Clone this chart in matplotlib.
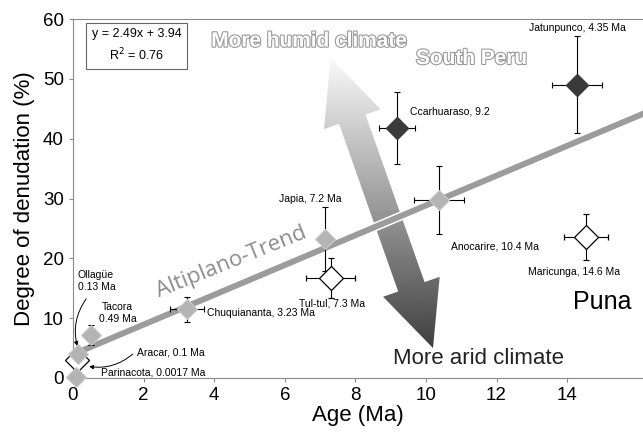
import numpy as np
import matplotlib
matplotlib.use("Agg")
import matplotlib.pyplot as plt
from matplotlib.patches import Polygon
import matplotlib.patheffects as pe

plt.rcParams['font.family'] = ['Liberation Sans', 'DejaVu Sans']

# sites: name, age position, denudation, errors
light_x = [0.08, 0.13, 0.5, 3.23, 7.15, 10.37]
light_y = [0.2, 4.0, 7.2, 11.5, 23.2, 29.8]
light_xerr = [0, 0, 0, 0.48, 0, 0.7]
light_yerr = [0, 0, 1.7, 2.1, 5.4, 5.7]

white_x = [0.1, 7.3, 14.53]
white_y = [3.0, 16.7, 23.6]
white_xerr = [0, 0.7, 0.62]
white_yerr = [0, 3.3, 3.8]

dark_x = [9.18, 14.28]
dark_y = [41.8, 49.0]
dark_xerr = [0.5, 0.7]
dark_yerr = [6.0, 8.1]

slope, intercept, r2 = 2.49, 3.94, 0.76

fig = plt.figure(figsize=(6.43, 4.33), dpi=100)
ax = fig.add_axes([73/643, 55/433, 570/643, 359/433])
ax.set_xlim(0, 16.15)
ax.set_ylim(0, 60)
ax.set_xticks([0, 2, 4, 6, 8, 10, 12, 14])
ax.set_yticks([0, 10, 20, 30, 40, 50, 60])
ax.tick_params(labelsize=13.5, length=3, color='#888888')
for s in ['left', 'bottom', 'top']:
    ax.spines[s].set_color('#8a8a8a')
ax.spines['right'].set_visible(False)
ax.set_xlabel("Age (Ma)", fontsize=16, labelpad=1)
ax.set_ylabel("Degree of denudation (%)", fontsize=16, labelpad=6)

# gradient double arrow (built in pixel space)
fig.canvas.draw()
p_top = ax.transData.transform((7.3, 53.5))
p_bot = ax.transData.transform((10.2, 5.0))
d = p_bot - p_top
L = np.hypot(*d)
u = d / L
n = np.array([-u[1], u[0]])
sw, hw, hl = 14, 30, 65
pts = [p_top,
       p_top + u*hl + n*hw, p_top + u*hl + n*sw,
       p_bot - u*hl + n*sw, p_bot - u*hl + n*hw,
       p_bot,
       p_bot - u*hl - n*hw, p_bot - u*hl - n*sw,
       p_top + u*hl - n*sw, p_top + u*hl - n*hw]
pts = ax.transData.inverted().transform(np.array(pts))
poly = Polygon(pts, closed=True, facecolor='none', edgecolor='none')
ax.add_patch(poly)
grad = np.linspace(0.98, 0.25, 256).reshape(-1, 1)
im = ax.imshow(grad, cmap='gray', vmin=0, vmax=1, aspect='auto',
               extent=[pts[:, 0].min(), pts[:, 0].max(), 5.0, 53.5],
               origin='upper', zorder=1)
im.set_clip_path(poly)
ax.set_xlim(0, 16.15)
ax.set_ylim(0, 60)

# trend line
xx = np.array([0.13, 17])
ax.plot(xx, slope*xx + intercept, color='#9c9c9c', lw=4.3, zorder=2,
        solid_capstyle='butt',
        path_effects=[pe.withStroke(linewidth=6.5, foreground='white')])

ekw = dict(ecolor='black', elinewidth=0.8, capsize=2.5, capthick=0.8, ls='none', zorder=3)
ax.errorbar(white_x, white_y, xerr=white_xerr, yerr=white_yerr, fmt='D', ms=12,
            mfc='white', mec='black', mew=0.9, clip_on=False, **ekw)
ax.errorbar(light_x, light_y, xerr=light_xerr, yerr=light_yerr, fmt='D', ms=10,
            mfc='#b4b4b4', mec='#c8c8c8', mew=0.8, clip_on=False, **ekw)
ax.errorbar(dark_x, dark_y, xerr=dark_xerr, yerr=dark_yerr, fmt='D', ms=11,
            mfc='#3a3a3a', mec='#3a3a3a', clip_on=False, **ekw)

fs = 7.5
ax.text(14.3, 58.5, "Jatunpunco, 4.35 Ma", fontsize=fs, ha='center', va='center')
ax.text(9.55, 44.5, "Ccarhuaraso, 9.2", fontsize=fs, ha='left', va='center')
ax.text(7.6, 29.9, "Japia, 7.2 Ma", fontsize=fs, ha='right', va='center')
ax.text(10.7, 21.9, "Anocarire, 10.4 Ma", fontsize=fs, ha='left', va='center')
ax.text(14.2, 17.7, "Maricunga, 14.6 Ma", fontsize=fs, ha='center', va='center')
ax.text(7.35, 12.4, "Tul-tul, 7.3 Ma", fontsize=fs, ha='center', va='center')
ax.text(3.8, 10.8, "Chuquiananta, 3.23 Ma", fontsize=fs, ha='left', va='center')
ax.text(1.27, 10.9, "Tacora\n0.49 Ma", fontsize=fs, ha='center', va='center', linespacing=1.2)
ax.text(0.13, 16.2, "Ollagüe\n0.13 Ma", fontsize=fs, ha='left', va='center', linespacing=1.2)
ax.text(1.8, 4.2, "Aracar, 0.1 Ma", fontsize=fs, ha='left', va='center')
ax.text(0.8, 0.85, "Parinacota, 0.0017 Ma", fontsize=fs, ha='left', va='center')

ax.annotate('', xy=(0.14, 4.9), xytext=(0.42, 13.6),
            arrowprops=dict(arrowstyle='-|>', color='black', lw=0.7,
                            mutation_scale=6, connectionstyle='arc3,rad=0.25'))
ax.annotate('', xy=(0.38, 2.0), xytext=(1.75, 4.3),
            arrowprops=dict(arrowstyle='-|>', color='black', lw=0.7,
                            mutation_scale=6, connectionstyle='arc3,rad=-0.25'))

ax.text(0.112, 0.925, "y = 2.49x + 3.94\nR$^2$ = 0.76", transform=ax.transAxes,
        fontsize=9, ha='center', va='center', linespacing=1.5,
        bbox=dict(boxstyle='square,pad=0.45', fc='white', ec='#666666', lw=0.8))

outline = [pe.withStroke(linewidth=1.6, foreground='#9a9a9a')]
ax.text(6.7, 56.3, "More humid climate", fontsize=15, fontweight='bold',
        color='white', ha='center', va='center', path_effects=outline, zorder=4)
ax.text(11.3, 53.4, "South Peru", fontsize=15, fontweight='bold',
        color='white', ha='center', va='center', path_effects=outline, zorder=4)
ax.text(4.5, 19.4, "Altiplano-Trend", fontsize=16, color='#8c8c8c',
        family='Open Sans', rotation=22, ha='center', va='center', zorder=4)
ax.text(15.0, 12.7, "Puna", fontsize=18, ha='center', va='center')
ax.text(11.5, 3.3, "More arid climate", fontsize=16, ha='center', va='center',
        color='#222222')

plt.savefig("out.png", dpi=100)
